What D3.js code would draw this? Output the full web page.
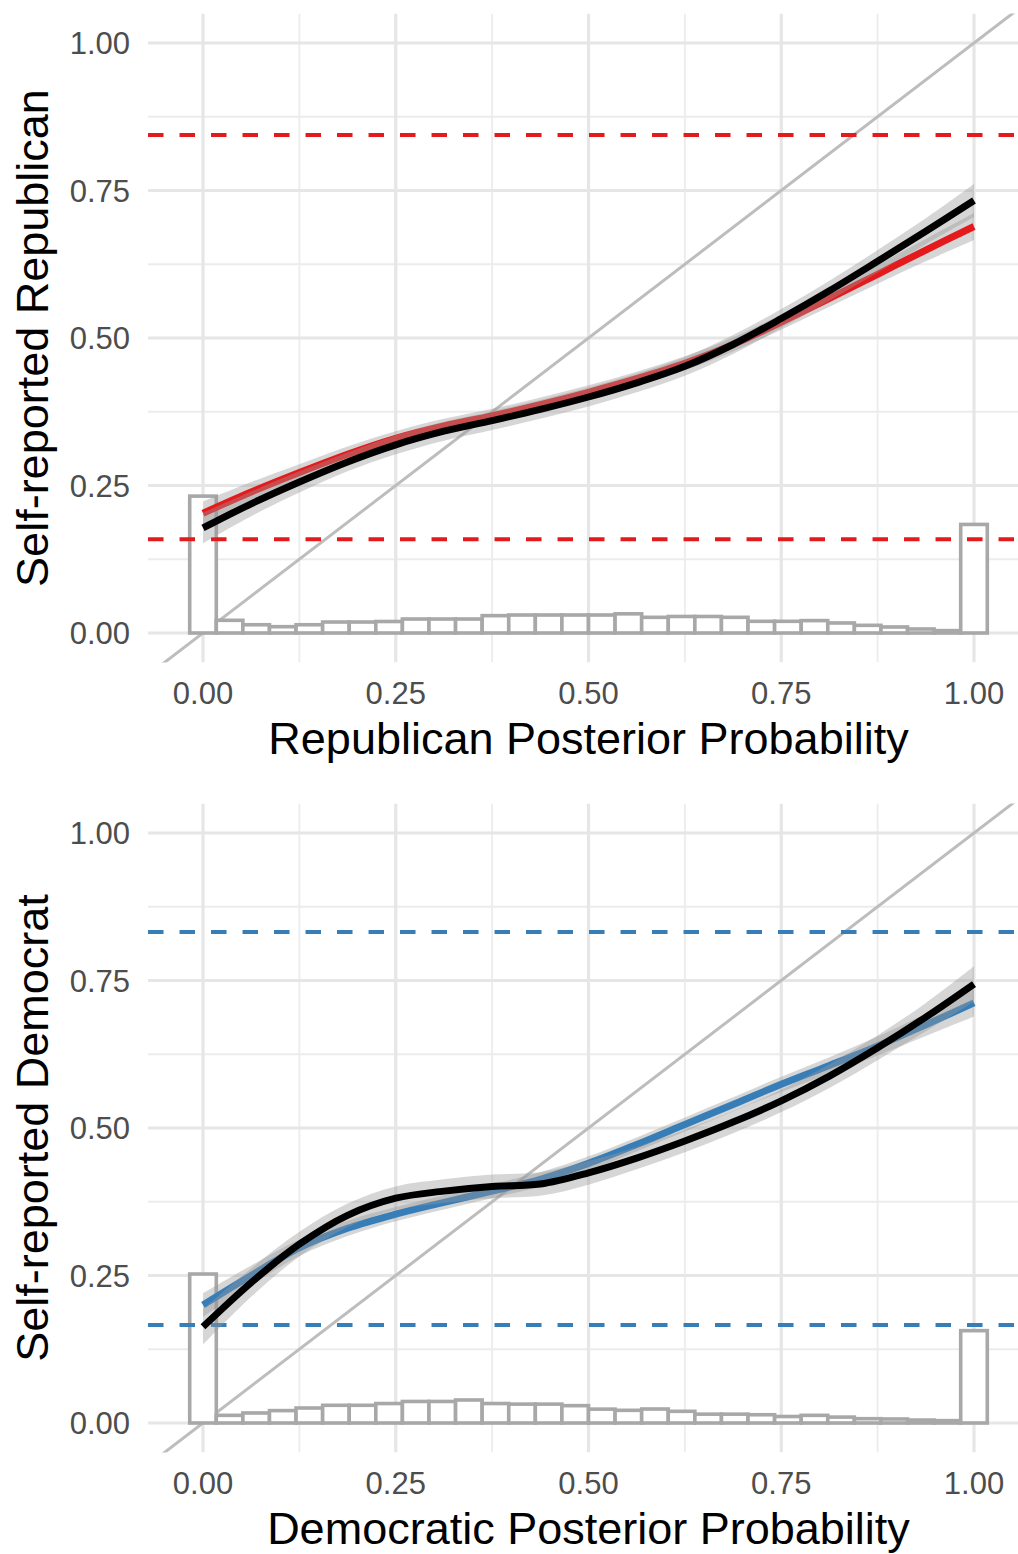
<!DOCTYPE html>
<html>
<head>
<meta charset="utf-8">
<script src="https://cdn.jsdelivr.net/npm/d3@7"></script>
<style>
  body { margin: 0; background: #fff; }
  text { font-family: 'Liberation Sans', Arial, sans-serif; }
</style>
</head>
<body>
<div id="app"></div>
<script>
/* global d3 */

// Axis ticks
const ticks = [0, 0.25, 0.5, 0.75, 1];
const tickLabels = ['0.00', '0.25', '0.50', '0.75', '1.00'];
const minorTicks = [0.125, 0.375, 0.625, 0.875];

// Histogram: 30 bins centred on 0, 1/29, ..., 1
const binCount = 30;
const repHist = [0.232, 0.0215, 0.014, 0.0107, 0.014, 0.0186, 0.0186, 0.0195, 0.0237, 0.0237,
  0.0237, 0.0294, 0.0305, 0.0305, 0.0305, 0.0305, 0.0325, 0.0266, 0.028, 0.028,
  0.0266, 0.0198, 0.0198, 0.021, 0.017, 0.013, 0.0102, 0.0068, 0.004, 0.184];
const demHist = [0.2525, 0.013, 0.017, 0.021, 0.0254, 0.03, 0.03, 0.033, 0.0365, 0.0365,
  0.039, 0.033, 0.032, 0.032, 0.0294, 0.0235, 0.0215, 0.0237, 0.0198, 0.015,
  0.015, 0.014, 0.011, 0.013, 0.010, 0.0073, 0.0068, 0.005, 0.004, 0.1565];

// Reference lines
const repLines = [0.844, 0.159];
const demLines = [0.832, 0.166];

// Smoothed curves
const smoothX = [0, 0.0625, 0.125, 0.1875, 0.25, 0.3125, 0.375, 0.4375, 0.5,
  0.5625, 0.625, 0.6875, 0.75, 0.8125, 0.875, 0.9375, 1];
const repRed = [0.203, 0.239, 0.272, 0.303, 0.33, 0.351, 0.368, 0.387, 0.408,
  0.431, 0.457, 0.489, 0.527, 0.567, 0.608, 0.649, 0.689];
const repRedSe = [0.02, 0.017, 0.014, 0.013, 0.012, 0.012, 0.012, 0.012, 0.012,
  0.012, 0.012, 0.012, 0.013, 0.014, 0.016, 0.019, 0.023];
const repBlack = [0.178, 0.219, 0.256, 0.29, 0.319, 0.342, 0.36, 0.379, 0.4,
  0.424, 0.452, 0.489, 0.533, 0.58, 0.63, 0.681, 0.733];
const repBlackSe = [0.026, 0.021, 0.018, 0.016, 0.016, 0.016, 0.016, 0.016, 0.016,
  0.016, 0.016, 0.016, 0.016, 0.017, 0.019, 0.022, 0.028];
const demBlue = [0.2, 0.25, 0.297, 0.33, 0.354, 0.374, 0.393, 0.413, 0.44,
  0.472, 0.506, 0.54, 0.574, 0.606, 0.639, 0.675, 0.712];
const demBlueSe = [0.02, 0.017, 0.014, 0.013, 0.012, 0.012, 0.012, 0.012, 0.012,
  0.012, 0.012, 0.012, 0.013, 0.014, 0.016, 0.019, 0.023];
const demBlack = [0.163, 0.238, 0.303, 0.352, 0.381, 0.393, 0.401, 0.405, 0.424,
  0.449, 0.478, 0.51, 0.546, 0.588, 0.636, 0.688, 0.744];
const demBlackSe = [0.03, 0.024, 0.021, 0.02, 0.02, 0.02, 0.02, 0.02, 0.02,
  0.019, 0.019, 0.019, 0.019, 0.02, 0.021, 0.024, 0.03];

// Constants
const width = 1018;
const height = 1554;
const panelOffset = 790;
const lim = { x0: -0.0713, x1: 1.0713, y0: -0.05, y1: 1.05 };

const x = d3.scaleLinear().domain([0, 1]).range([203, 974]);
const y = d3.scaleLinear().domain([0, 1]).range([633, 43]);

const svg = d3.select('#app')
  .append('svg')
  .attr('width', width)
  .attr('height', height);

function drawPanel(cfg, idx) {
  const g = svg.append('g')
    .attr('transform', `translate(0, ${idx * panelOffset})`);

  const clipId = `clip${idx}`;
  g.append('clipPath')
    .attr('id', clipId)
    .append('rect')
    .attr('x', x(lim.x0))
    .attr('y', y(lim.y1))
    .attr('width', x(lim.x1) - x(lim.x0))
    .attr('height', y(lim.y0) - y(lim.y1));

  const plot = g.append('g').attr('clip-path', `url(#${clipId})`);

  // Grid
  plot.selectAll('.minorX')
    .data(minorTicks)
    .join('line')
    .attr('x1', (d) => x(d)).attr('x2', (d) => x(d))
    .attr('y1', y(lim.y0)).attr('y2', y(lim.y1))
    .attr('stroke', '#ececec').attr('stroke-width', 1.8);
  plot.selectAll('.minorY')
    .data(minorTicks)
    .join('line')
    .attr('y1', (d) => y(d)).attr('y2', (d) => y(d))
    .attr('x1', x(lim.x0)).attr('x2', x(lim.x1))
    .attr('stroke', '#ececec').attr('stroke-width', 1.8);
  plot.selectAll('.majorX')
    .data(ticks)
    .join('line')
    .attr('x1', (d) => x(d)).attr('x2', (d) => x(d))
    .attr('y1', y(lim.y0)).attr('y2', y(lim.y1))
    .attr('stroke', '#e6e6e6').attr('stroke-width', 3.2);
  plot.selectAll('.majorY')
    .data(ticks)
    .join('line')
    .attr('y1', (d) => y(d)).attr('y2', (d) => y(d))
    .attr('x1', x(lim.x0)).attr('x2', x(lim.x1))
    .attr('stroke', '#e6e6e6').attr('stroke-width', 3.2);

  // 45 degree line
  plot.append('line')
    .attr('x1', x(lim.x0)).attr('y1', y(lim.x0))
    .attr('x2', x(lim.x1)).attr('y2', y(lim.x1))
    .attr('stroke', '#bdbdbd').attr('stroke-width', 3);

  // Histogram
  const bw = 1 / (binCount - 1);
  plot.selectAll('.bar')
    .data(cfg.hist)
    .join('rect')
    .attr('x', (d, i) => x(i * bw - bw / 2))
    .attr('width', x(bw) - x(0))
    .attr('y', (d) => y(d))
    .attr('height', (d) => y(0) - y(d))
    .attr('fill', '#fff')
    .attr('stroke', '#a8a8a8')
    .attr('stroke-width', 3.6);

  // Dashed reference lines
  plot.selectAll('.hline')
    .data(cfg.lines)
    .join('line')
    .attr('x1', x(lim.x0)).attr('x2', x(lim.x1))
    .attr('y1', (d) => y(d)).attr('y2', (d) => y(d))
    .attr('stroke', cfg.color)
    .attr('stroke-width', 4)
    .attr('stroke-dasharray', '15.5,16');

  // Smooths
  const smooths = [
    { v: cfg.fit, se: cfg.fitSe, color: cfg.color },
    { v: cfg.black, se: cfg.blackSe, color: '#000' },
  ];
  smooths.forEach((s) => {
    const area = d3.area()
      .x((d, i) => x(smoothX[i]))
      .y0((d, i) => y(d - s.se[i]))
      .y1((d, i) => y(d + s.se[i]))
      .curve(d3.curveCatmullRom);
    plot.append('path')
      .attr('d', area(s.v))
      .attr('fill', '#999')
      .attr('fill-opacity', 0.4);
    const line = d3.line()
      .x((d, i) => x(smoothX[i]))
      .y((d) => y(d))
      .curve(d3.curveCatmullRom);
    plot.append('path')
      .attr('d', line(s.v))
      .attr('fill', 'none')
      .attr('stroke', s.color)
      .attr('stroke-width', 7);
  });

  // Tick labels
  g.selectAll('.ytick')
    .data(ticks)
    .join('text')
    .attr('x', 130)
    .attr('y', (d) => y(d) + 11)
    .attr('text-anchor', 'end')
    .attr('font-size', 31)
    .attr('fill', '#4d4d4d')
    .text((d, i) => tickLabels[i]);
  g.selectAll('.xtick')
    .data(ticks)
    .join('text')
    .attr('x', (d) => x(d))
    .attr('y', 704)
    .attr('text-anchor', 'middle')
    .attr('font-size', 31)
    .attr('fill', '#4d4d4d')
    .text((d, i) => tickLabels[i]);

  // Axis titles
  g.append('text')
    .attr('x', x(0.5))
    .attr('y', 754)
    .attr('text-anchor', 'middle')
    .attr('font-size', 45)
    .attr('fill', '#000')
    .text(cfg.xTitle);
  g.append('text')
    .attr('transform', `translate(48, ${(y(lim.y0) + y(lim.y1)) / 2}) rotate(-90)`)
    .attr('text-anchor', 'middle')
    .attr('font-size', 45)
    .attr('fill', '#000')
    .text(cfg.yTitle);
}

drawPanel({
  hist: repHist,
  lines: repLines,
  fit: repRed,
  fitSe: repRedSe,
  black: repBlack,
  blackSe: repBlackSe,
  color: '#e41a1c',
  xTitle: 'Republican Posterior Probability',
  yTitle: 'Self-reported Republican',
}, 0);

drawPanel({
  hist: demHist,
  lines: demLines,
  fit: demBlue,
  fitSe: demBlueSe,
  black: demBlack,
  blackSe: demBlackSe,
  color: '#377eb8',
  xTitle: 'Democratic Posterior Probability',
  yTitle: 'Self-reported Democrat',
}, 1);
</script>
</body>
</html>
